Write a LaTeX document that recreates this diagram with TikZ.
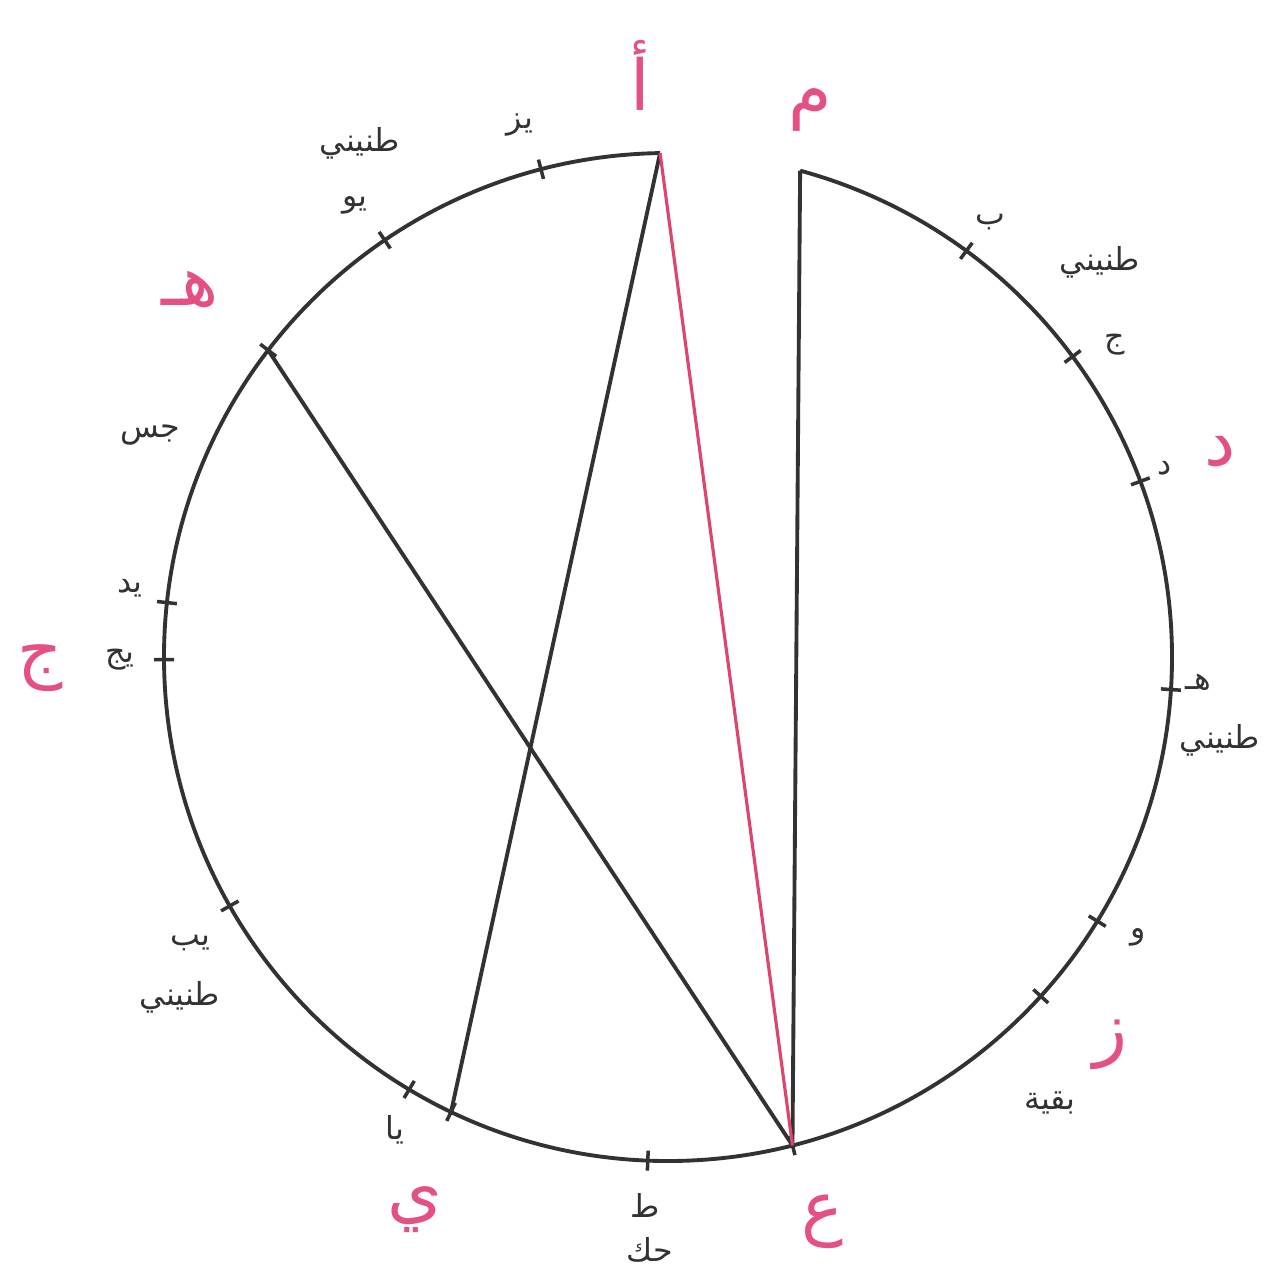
\documentclass[tikz,border=0pt]{standalone}
\usepackage{fontspec}
\newfontfamily\arabicfont[Script=Arabic]{DejaVu Sans}
\TeXXeTstate=1
\usepackage{tikz}
\usetikzlibrary{calc}
\definecolor{inkgray}{RGB}{50,50,50}
\definecolor{handpink}{RGB}{228,80,130}
\definecolor{chordred}{RGB}{220,70,110}
\newcommand{\ar}[1]{\arabicfont\beginR #1\endR}

\begin{document}
\begin{tikzpicture}[
  rim/.style={draw=inkgray,line width=1.1pt},
  chord/.style={draw=inkgray,line width=1.1pt},
  redchord/.style={draw=chordred,line width=0.9pt},
  tick/.style={draw=inkgray,line width=1pt},
  note/.style={font=\fontsize{9}{10}\selectfont,text=inkgray,inner sep=1pt},
  hand/.style={font=\fontsize{20}{22}\selectfont,text=handpink,inner sep=1pt}
]
\useasboundingbox (-6.68,-6.09) rectangle (6.09,6.57);
% circle points
\def\rr{5.04}
\coordinate (O) at (0,0);
\coordinate (A) at (90.9:\rr);
\coordinate (M) at (74.8:\rr);
\coordinate (E) at (284.3:\rr);
\coordinate (H) at (142.5:\rr);
\coordinate (Y) at (244.5:\rr);

% broken circle
\draw[rim] (A) arc[start angle=90.9,end angle=434.8,radius=\rr];

% ticks
\foreach \a in {104.6,124.2,142.5,173.8,180.3,209.6,239.1,244.5,267.7,284.3,317.7,328.4,356.3,20.4,36.6,53.7}
  \draw[tick] (\a:\rr-0.1) -- (\a:\rr+0.1);

% chords
\draw[chord] (A) -- (Y);
\draw[chord] (H) -- (E);
\draw[chord] (M) -- (E);
\draw[redchord] (A) -- (E);

% printed labels
\node[note] (n17) at (-1.48,5.32) {\ar{يز}};
\node[note] (t1)  at (-3.08,5.14) {\ar{طنيني}};
\node[note] (n16) at (-3.13,4.52) {\ar{يو}};
\node[note] (js)  at (-5.18,2.22) {\ar{جس}};
\node[note] (n14) at (-5.38,0.69) {\ar{يد}};
\node[note] (n13) at (-5.48,-0.03) {\ar{يج}};
\node[note] (n12) at (-4.78,-2.86) {\ar{يب}};
\node[note] (t2)  at (-4.88,-3.40) {\ar{طنيني}};
\node[note] (n11) at (-2.73,-4.73) {\ar{يا}};
\node[note] (n9)  at (-0.23,-5.48) {\ar{ط}};
\node[note] (hk)  at (-0.18,-5.93) {\ar{حك}};
\node[note] (bq)  at (3.82,-4.46) {\ar{بقية}};
\node[note] (n6)  at (4.70,-2.80) {\ar{و}};
\node[note] (n5)  at (5.30,-0.25) {\ar{هـ}};
\node[note] (t3)  at (5.52,-0.83) {\ar{طنيني}};
\node[note] (n4)  at (4.97,1.89) {\ar{د}};
\node[note] (n3)  at (4.47,3.12) {\ar{ج}};
\node[note] (t4)  at (4.32,3.95) {\ar{طنيني}};
\node[note] (n2)  at (3.22,4.35) {\ar{ب}};

% handwritten letters
\node[hand] (hA) at (-0.28,5.82) {\ar{أ}};
\node[hand] (hM) at (1.42,5.47) {\ar{م}};
\node[hand] (hH) at (-4.78,3.67) {\ar{هـ}};
\node[hand] (hD) at (5.52,2.05) {\ar{د}};
\node[hand] (hJ) at (-6.28,-0.11) {\ar{ج}};
\node[hand] (hZ) at (4.42,-3.88) {\ar{ز}};
\node[hand] (hY) at (-2.53,-5.53) {\ar{ي}};
\node[hand] (hE) at (1.54,-5.65) {\ar{ع}};
\end{tikzpicture}
\end{document}
